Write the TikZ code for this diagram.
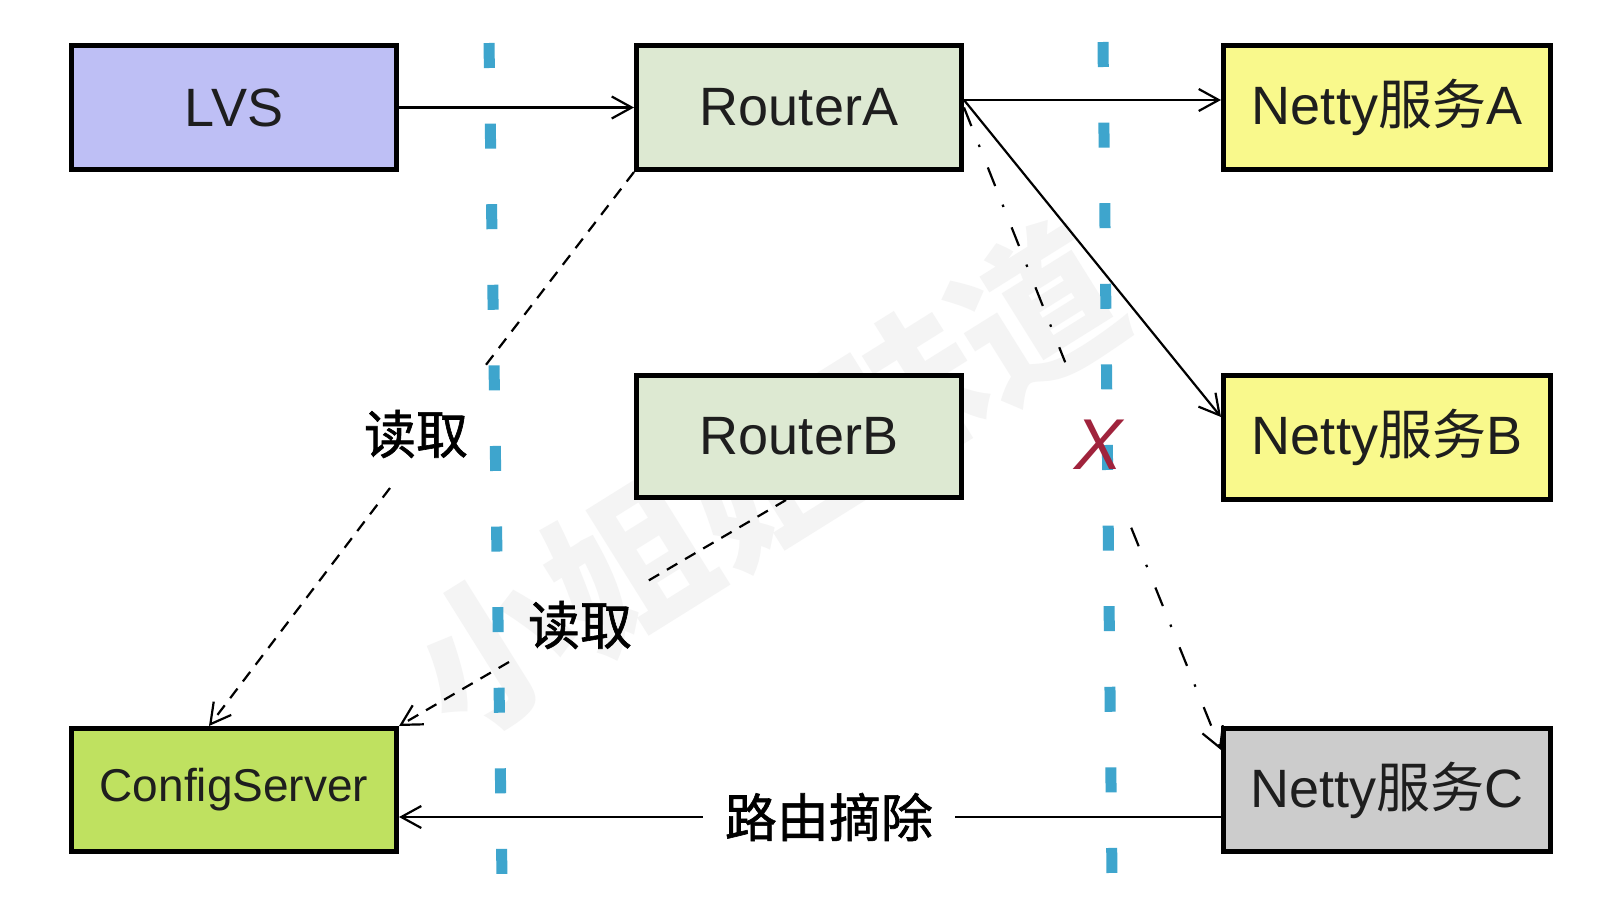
\documentclass[tikz,border=0pt]{standalone}
\usepackage{fontspec}
\setmainfont{Liberation Sans}
\newfontfamily\cjk{Noto Sans CJK SC}
\newfontfamily\cjkm[FakeBold=1.2]{Noto Sans CJK SC}
\usetikzlibrary{arrows.meta}
\definecolor{lvsc}{RGB}{190,191,245}
\definecolor{routc}{RGB}{221,233,210}
\definecolor{nettyc}{RGB}{249,249,140}
\definecolor{csc}{RGB}{191,225,96}
\definecolor{grayc}{RGB}{204,204,204}
\definecolor{sepc}{RGB}{62,165,205}
\definecolor{xred}{RGB}{160,35,60}
\definecolor{textc}{RGB}{30,30,30}
\definecolor{wmc}{RGB}{244,244,244}
\begin{document}
\begin{tikzpicture}[x=1pt,y=-1pt,
  box/.style={draw=black, line width=5pt, minimum width=325pt, minimum height=124pt, inner sep=0pt,
    font=\fontsize{54}{60}\selectfont, text=textc},
  arr/.style={-{Straight Barb[length=20pt,width=22pt]}},
  conn/.style={line width=2.2pt, draw=black},
  rd/.style={dash pattern=on 12pt off 9pt},
  dd/.style={dash pattern=on 20pt off 20pt on 2.5pt off 22pt},
  sepline/.style={line width=11pt, draw=sepc, dash pattern=on 25pt off 55.6pt},
  lbl/.style={font=\cjkm\fontsize{52}{60}\selectfont, inner sep=0pt, text=black}
]
\useasboundingbox (0,0) rectangle (1604,900);
\fill[white] (0,0) rectangle (1604,900);

% watermark
\node[rotate=32, text=wmc, font=\cjk\bfseries\fontsize{160}{170}\selectfont] (wm) at (765,480) {小姐姐味道};

% separators
\coordinate (s1a) at (489,43);
\coordinate (s1b) at (502,877);
\coordinate (s2a) at (1103,42);
\coordinate (s2b) at (1112,877);
\draw[sepline] (s1a) -- (s1b);
\draw[sepline] (s2a) -- (s2b);

% boxes
\node[box, fill=lvsc] (LVS) at (234,107.5) {LVS};
\node[box, fill=routc] (RA) at (799,107.5) {RouterA};
\node[box, fill=nettyc, minimum width=327pt] (NA) at (1387,107.5) {Netty{\cjk 服务}A};
\node[box, fill=routc, minimum height=122pt] (RB) at (799,436.5) {RouterB};
\node[box, fill=nettyc, minimum width=327pt] (NB) at (1387,437) {Netty{\cjk 服务}B};
\node[box, fill=csc, minimum height=123pt, font=\fontsize{46}{52}\selectfont] (CS) at (234,790) {ConfigServer};
\node[box, fill=grayc, minimum width=327pt, minimum height=123pt] (NC) at (1387,790) {Netty{\cjk 服务}C};

% red X
\node[text=xred, font=\itshape\fontsize{72}{72}\selectfont, minimum width=70pt, minimum height=165pt, inner sep=0pt] (X) at (1098,445) {X};

% labels
\node[lbl] (L1) at (416,434) {读取};
\node[lbl] (L2) at (580,625) {读取};

% connectors
\draw[conn, arr] (LVS.east) -- (RA.west);
\draw[conn, arr] ([yshift=7.5pt]RA.east) -- ([yshift=7.5pt]NA.west);
\draw[conn, arr] ([yshift=7.5pt]RA.east) -- ([yshift=20pt]NB.west);
\draw[conn, dd, arr] (RA.east) -- (X) -- ([yshift=40pt]NC.west);

\coordinate (g1) at (482,370);
\coordinate (g2) at (390,488);
\draw[conn, rd] (RA.south west) -- (g1);
\draw[conn, rd, arr] (g2) -- ([xshift=-25pt]CS.north);

\coordinate (h1) at (646,582);
\coordinate (h2) at (509,662);
\draw[conn, rd] ([xshift=-13pt]RB.south) -- (h1);
\draw[conn, rd, arr] (h2) -- (CS.north east);

\draw[conn, arr] ([yshift=-27pt]NC.west) -- node[lbl, fill=white, inner xsep=22pt, inner ysep=4pt, pos=0.477] (L3) {路由摘除} ([yshift=-27pt]CS.east);
\end{tikzpicture}
\end{document}
